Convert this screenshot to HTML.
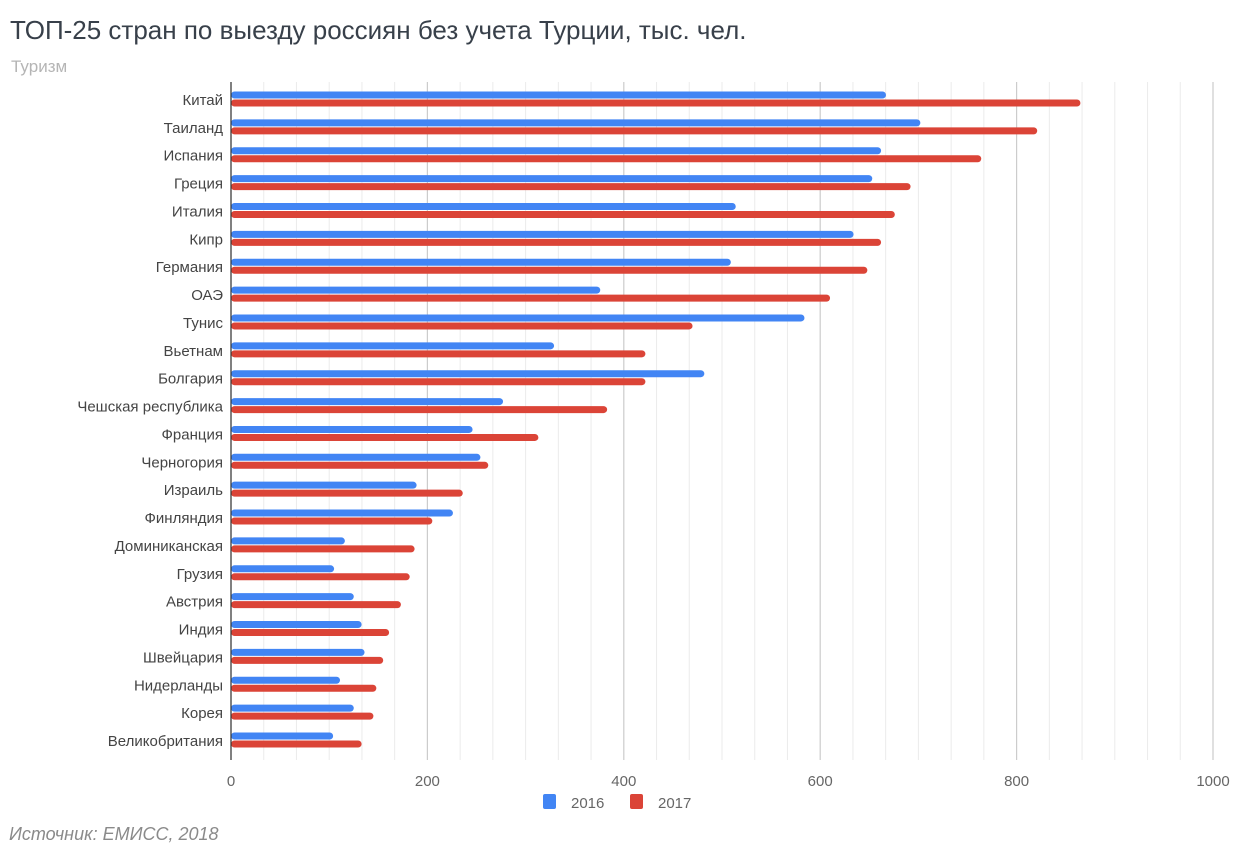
<!DOCTYPE html>
<html><head><meta charset="utf-8"><style>
body{margin:0;background:#fff;width:1239px;height:856px;overflow:hidden}
svg{display:block;font-family:"Liberation Sans","Noto Sans CJK SC",sans-serif}
</style></head><body>
<svg id="chart" width="1239" height="856">
<text x="10" y="39" font-size="26" fill="#38404a">ТОП-25 стран по выезду россиян без учета Турции, тыс. чел.</text>
<text x="11" y="72" font-size="17" fill="#b5b5b5">Туризм</text>
<g id="grid"></g><g id="bars"></g><g id="labels"></g><g id="ticks"></g>
<g>
<rect x="543" y="794" width="13" height="15" rx="2" fill="#4285f4"/>
<text x="571" y="808" font-size="15" fill="#666">2016</text>
<rect x="630" y="794" width="13" height="15" rx="2" fill="#db4437"/>
<text x="658" y="808" font-size="15" fill="#666">2017</text>
</g>
<text x="9" y="840" font-size="18" font-style="italic" fill="#8a8a8a">Источник: ЕМИСС, 2018</text>
</svg>
<script>
const categories=["Китай","Таиланд","Испания","Греция","Италия","Кипр","Германия","ОАЭ","Тунис","Вьетнам","Болгария","Чешская республика","Франция","Черногория","Израиль","Финляндия","Доминиканская","Грузия","Австрия","Индия","Швейцария","Нидерланды","Корея","Великобритания"];
const values2016=[667,702,662,653,514,634,509,376,584,329,482,277,246,254,189,226,116,105,125,133,136,111,125,104];
const values2017=[865,821,764,692,676,662,648,610,470,422,422,383,313,262,236,205,187,182,173,161,155,148,145,133];
const tickValues=[0,200,400,600,800,1000];
const NS="http://www.w3.org/2000/svg";
const x0=231,x1=1213,yTop=82,yBottom=760,maxV=1000;
const xs=v=>x0+(x1-x0)*v/maxV;
const band=27.87, firstCenter=95;
function mk(tag,attrs,parent){const e=document.createElementNS(NS,tag);for(const k in attrs)e.setAttribute(k,attrs[k]);document.getElementById(parent).appendChild(e);return e;}
for(let i=0;i<=30;i++){const v=i*100/3;const major=i%6===0;
 const l=mk('line',{x1:xs(v),x2:xs(v),y1:yTop,y2:yBottom,stroke:major?'#cccccc':'#ebebeb','stroke-width':major?1.2:1},'grid');
 
 }
tickValues.forEach(t=>{const tx=mk('text',{x:xs(t),y:786,'text-anchor':'middle','font-size':15,fill:'#666'},'ticks');tx.textContent=t;
 
 });
categories.forEach((c,i)=>{const cy=firstCenter+i*band;
 const b=mk('rect',{x:x0,y:cy-3.5,width:Math.max(0,xs(values2016[i])-x0),height:7,rx:3.5,fill:'#4285f4'},'bars');
 
 
 const r=mk('rect',{x:x0,y:cy+4.5,width:Math.max(0,xs(values2017[i])-x0),height:7,rx:3.5,fill:'#db4437'},'bars');
 
 
 const t=mk('text',{x:223,y:cy+10,'text-anchor':'end','font-size':15,fill:'#444'},'labels');t.textContent=c;
 
 });
const ax=mk('line',{x1:x0,x2:x0,y1:yTop,y2:yBottom,stroke:'#333','stroke-width':1.2},'ticks');


</script>
</body></html>
